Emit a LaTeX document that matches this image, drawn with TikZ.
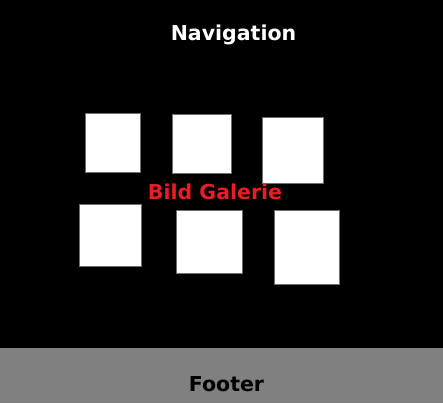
\documentclass[tikz,border=0pt]{standalone}
\usepackage{fontspec}
\setmainfont{DejaVu Sans}
\definecolor{galred}{RGB}{237,28,36}
\definecolor{footgray}{RGB}{128,128,128}
\definecolor{edgegray}{RGB}{110,110,110}
\begin{document}
\begin{tikzpicture}[x=1pt,y=-1pt,
  photo/.style={fill=white,draw=edgegray,line width=1pt},
  lbl/.style={font=\fontsize{20.5}{24}\selectfont\bfseries,inner sep=0pt,anchor=base}]
\useasboundingbox (0,0) rectangle (443,403);
\fill[black] (0,0) rectangle (443,348);
\fill[footgray] (0,348) rectangle (443,403);
\draw[photo] (85,114) rectangle (140,172);
\draw[photo] (172,115) rectangle (231,173);
\draw[photo] (262,118) rectangle (323,183);
\draw[photo] (79,204) rectangle (141,266);
\draw[photo] (176,210) rectangle (242,273);
\draw[photo] (274,210) rectangle (339,284);
\node[lbl,text=white] (nav) at (233.5,41) {Navigation};
\node[lbl,text=galred] (gal) at (215,199) {Bild Galerie};
\node[lbl,text=black] (foot) at (226.5,391) {Footer};
\end{tikzpicture}
\end{document}
